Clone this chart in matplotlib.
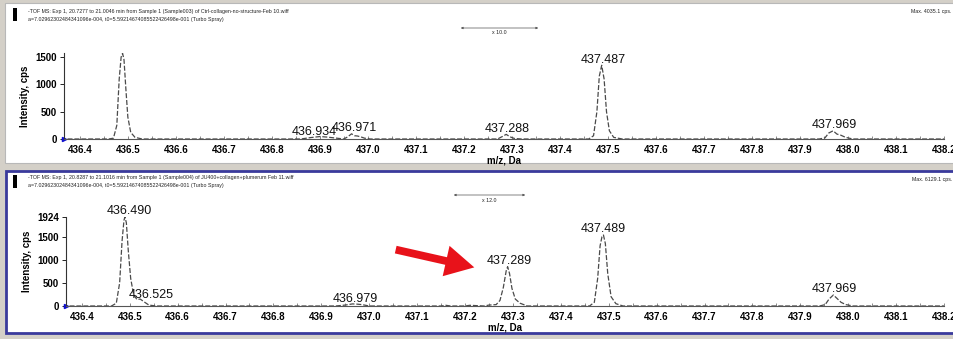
import matplotlib.pyplot as plt
from matplotlib.patches import Rectangle, FancyArrowPatch

W, H = 954, 339

# profile of run 1 (top trace), m/z and intensity
top_mz = [436.360, 436.460, 436.470, 436.477, 436.482, 436.486, 436.489, 436.492,
          436.496, 436.500, 436.506, 436.515, 436.530, 436.860, 436.880, 436.900,
          436.915, 436.930, 436.950, 436.958, 436.966, 436.972, 436.978, 436.985,
          436.993, 437.005, 437.270, 437.280, 437.288, 437.296, 437.305, 437.320,
          437.460, 437.470, 437.477, 437.482, 437.487, 437.492, 437.497, 437.503,
          437.512, 437.530, 437.940, 437.952, 437.960, 437.969, 437.977, 437.985,
          437.995, 438.010, 438.200]
top_int = [0, 0, 15, 250, 1100, 1500, 1570, 1450,
           900, 400, 120, 30, 0, 0, 25, 45,
           35, 20, 0, 40, 95, 60, 55, 40,
           15, 0, 0, 45, 85, 40, 10, 0,
           0, 60, 500, 1150, 1350, 1100, 500, 150,
           30, 0, 0, 20, 110, 150, 90, 70,
           30, 0, 0]

# profile of run 2 (bottom trace)
bot_mz = [436.360, 436.462, 436.472, 436.479, 436.484, 436.488, 436.490, 436.493,
          436.497, 436.502, 436.508, 436.515, 436.522, 436.530, 436.540, 436.555,
          436.930, 436.950, 436.965, 436.975, 436.985, 437.000, 437.150, 437.160,
          437.170, 437.200, 437.210, 437.240, 437.250, 437.265, 437.273, 437.280,
          437.286, 437.289, 437.293, 437.298, 437.305, 437.315, 437.330, 437.460,
          437.470, 437.477, 437.482, 437.486, 437.489, 437.493, 437.498, 437.505,
          437.515, 437.530, 437.940, 437.952, 437.960, 437.969, 437.976, 437.985,
          437.995, 438.010, 438.200]
bot_int = [0, 0, 60, 500, 1400, 1850, 1924, 1800,
           1200, 600, 250, 140, 150, 90, 20, 0,
           0, 20, 45, 40, 30, 0, 0, 15,
           0, 0, 15, 0, 20, 30, 120, 400,
           760, 850, 700, 380, 150, 60, 0, 0,
           80, 600, 1300, 1500, 1535, 1350, 700, 200,
           50, 0, 0, 30, 150, 238, 170, 80,
           30, 0, 0]

top_labels = [(436.934, 30, '436.934', -16), (436.971, 95, '436.971', 0),
              (437.288, 85, '437.288', 1), (437.487, 1350, '437.487', 1),
              (437.969, 150, '437.969', 1)]
bot_labels = [(436.490, 1924, '436.490', 3), (436.525, 120, '436.525', 7),
              (436.979, 35, '436.979', -3), (437.289, 850, '437.289', 1),
              (437.489, 1535, '437.489', 0), (437.969, 238, '437.969', 1)]

top_yticks = [0, 500, 1000, 1500]
bot_yticks = [0, 500, 1000, 1500, 1924]
x_ticks = [436.4 + 0.1 * i for i in range(19)]

plt.rcParams['font.family'] = ['Liberation Sans', 'DejaVu Sans']


def fx(px):
    return px / W


def fy(py):
    return 1 - py / H


def draw_panel(ax, mz, inten, yticks, ymax, labels):
    ax.plot(mz, inten, color='#4a4a4a', lw=0.9, ls=(0, (4, 1.5)))
    ax.set_xlim(436.367, 438.2)
    ax.set_ylim(0, ymax)
    for side in ('top', 'right'):
        ax.spines[side].set_visible(False)
    ax.spines['left'].set_color('#333333')
    ax.spines['bottom'].set_color('#555555')
    ax.set_xticks(x_ticks)
    ax.set_xticklabels([f'{t:.1f}' for t in x_ticks])
    ax.set_xticks([436.4 + 0.05 * i for i in range(37)], minor=True)
    ax.set_yticks(yticks)
    ax.tick_params(axis='x', which='both', direction='in', length=2, pad=4,
                   labelsize=7, width=0.6, color='#777777')
    ax.tick_params(axis='y', length=3, pad=2, labelsize=7, width=0.6)
    for lab in ax.get_xticklabels() + ax.get_yticklabels():
        lab.set_fontweight('bold')
    ax.set_ylabel('Intensity, cps', fontsize=7, fontweight='bold', labelpad=4)
    ax.plot(0, 0, marker='>', color='#1010d0', ms=3, transform=ax.transAxes, clip_on=False)
    ax.patch.set_alpha(0)
    for x, y, txt, dx in labels:
        ax.annotate(txt, (x, y), xytext=(dx, 2), textcoords='offset points',
                    ha='center', va='baseline', fontsize=9, color='#111111')


fig = plt.figure(figsize=(W / 100, H / 100), dpi=100, facecolor='#d4d0c8')

# panel frames, kept behind the axes
fig.patches.append(Rectangle((fx(5), fy(163)), fx(949), 160 / H, transform=fig.transFigure,
                             facecolor='white', edgecolor='#b8b8b8', lw=0.8, zorder=-10))
fig.patches.append(Rectangle((fx(6), fy(333)), fx(948), 162 / H, transform=fig.transFigure,
                             facecolor='white', edgecolor='#3a3a9c', lw=2, zorder=-10))

ax1 = fig.add_axes([fx(64), fy(139), fx(944 - 64), (139 - 53) / H])
ax2 = fig.add_axes([fx(66), fy(306), fx(944 - 66), (306 - 217) / H])
draw_panel(ax1, top_mz, top_int, top_yticks, 1575, top_labels)
draw_panel(ax2, bot_mz, bot_int, bot_yticks, 1924, bot_labels)
ax1.set_xlabel('m/z, Da', fontsize=7, fontweight='bold', labelpad=1)
ax2.set_xlabel('m/z, Da', fontsize=7, fontweight='bold', labelpad=1)

# header texts
headers = [
    (8, '-TOF MS: Exp 1, 20.7277 to 21.0046 min from Sample 1 (Sample003) of Ctrl-collagen-no-structure-Feb 10.wiff',
     'a=7.02962302484341096e-004, t0=5.59214674085522426498e-001 (Turbo Spray)', 'Max. 4035.1 cps.', 458, 541, 'x 10.0'),
    (175, '-TOF MS: Exp 1, 20.8287 to 21.1016 min from Sample 1 (Sample004) of JU400+collagen+plumerum Feb 11.wiff',
     'a=7.02962302484341096e-004, t0=5.59214674085522426498e-001 (Turbo Spray)', 'Max. 6129.1 cps.', 451, 528, 'x 12.0'),
]
for top, line1, line2, maxtxt, x0, x1, zoomtxt in headers:
    fig.patches.append(Rectangle((fx(13), fy(top + 13)), fx(4), 13 / H, transform=fig.transFigure,
                                 facecolor='black', edgecolor='none'))
    fig.text(fx(28), fy(top + 3), line1, fontsize=3.8, va='center', color='#222222')
    fig.text(fx(28), fy(top + 11), line2, fontsize=3.8, va='center', color='#222222')
    fig.text(fx(952), fy(top + 4), maxtxt, fontsize=3.8, va='center', ha='right', color='#222222')
    fig.patches.append(FancyArrowPatch((fx(x0), fy(top + 20)), (fx(x1), fy(top + 20)),
                                       transform=fig.transFigure, arrowstyle='<|-|>',
                                       mutation_scale=3, lw=0.5, color='#555555'))
    fig.text(fx((x0 + x1) / 2), fy(top + 25), zoomtxt, fontsize=3.8, va='center', ha='center',
             color='#222222')

# red arrow pointing at the new peak
fig.patches.append(FancyArrowPatch((fx(393), fy(249)), (fx(477), fy(268)), transform=fig.transFigure,
                                   arrowstyle='simple,head_length=1.3,head_width=1.4,tail_width=0.35',
                                   mutation_scale=16, color='#e8121a', lw=0, zorder=5))

fig.savefig('out.png', dpi=100, facecolor=fig.get_facecolor())
